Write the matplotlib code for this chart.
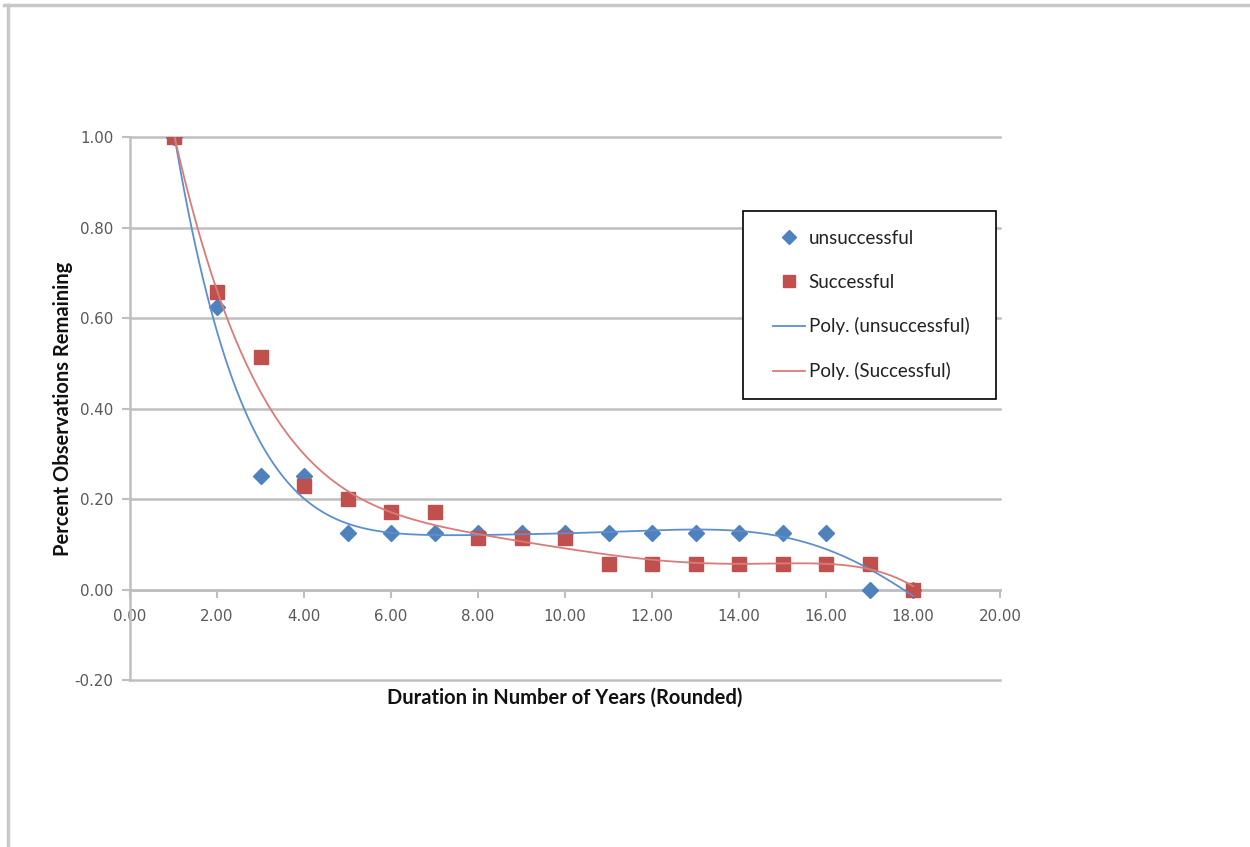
import numpy as np
import matplotlib
matplotlib.use("Agg")
import matplotlib.pyplot as plt
from matplotlib.lines import Line2D
from matplotlib.legend_handler import HandlerLine2D

years = [1, 2, 3, 4, 5, 6, 7, 8, 9, 10, 11, 12, 13, 14, 15, 16, 17, 18]
unsuccessful = [1.0, 0.625, 0.25, 0.25, 0.125, 0.125, 0.125, 0.125, 0.125,
                0.125, 0.125, 0.125, 0.125, 0.125, 0.125, 0.125, 0.0, 0.0]
successful = [1.0, 0.657, 0.514, 0.229, 0.2, 0.171, 0.171, 0.114, 0.114,
              0.114, 0.057, 0.057, 0.057, 0.057, 0.057, 0.057, 0.057, 0.0]
x_ticks = [0, 2, 4, 6, 8, 10, 12, 14, 16, 18, 20]
y_ticks = [-0.2, 0.0, 0.2, 0.4, 0.6, 0.8, 1.0]
poly_order_unsuccessful = 6
poly_order_successful = 5

BLUE = "#4F81BD"
RED = "#C0504D"
BLUE_L = "#5B8FD0"
RED_L = "#DB7B78"
GRID = "#BFBFBF"

fig = plt.figure(figsize=(12.5, 8.47), dpi=100)
ax = fig.add_axes([130/1250, 1-680/847, 870/1250, (680-137)/847])

xs = np.array(years, dtype=float)
xf = np.linspace(xs.min(), xs.max(), 400)
pu = np.polyfit(xs, unsuccessful, poly_order_unsuccessful)
ps = np.polyfit(xs, successful, poly_order_successful)

ax.plot(years, unsuccessful, linestyle="none", marker="D", markersize=8,
        color=BLUE, zorder=3)
ax.plot(years, successful, linestyle="none", marker="s", markersize=10,
        color=RED, zorder=3)
ax.plot(xf, np.polyval(pu, xf), color=BLUE_L, lw=1.3, zorder=4)
ax.plot(xf, np.polyval(ps, xf), color=RED_L, lw=1.3, zorder=4)

ax.set_xlim(0, 20)
ax.set_ylim(-0.2, 1.0)
ax.set_xticks(x_ticks)
ax.set_yticks(y_ticks)
ax.set_xticklabels([f"{t:.2f}" for t in x_ticks])
ax.set_yticklabels([f"{t:.2f}" for t in y_ticks])

for s in ["top", "right"]:
    ax.spines[s].set_visible(False)
ax.spines["left"].set_color(GRID)
ax.spines["left"].set_linewidth(1.8)
ax.spines["bottom"].set_position(("data", 0))
ax.spines["bottom"].set_color(GRID)
ax.spines["bottom"].set_linewidth(1.8)
ax.yaxis.grid(True, color=GRID, linewidth=1.8)
for gl in ax.yaxis.get_gridlines():
    gl.set_clip_on(False)
ax.set_axisbelow(True)
ax.tick_params(axis="both", colors=GRID, labelcolor="#595959",
               labelsize=10.8, length=6, width=1.5)
for t in ax.get_xticklabels() + ax.get_yticklabels():
    t.set_family("DejaVu Sans")
ax.tick_params(axis="x", direction="out", pad=8)
ax.tick_params(axis="y", direction="out", pad=6)

fam = ["Lato", "DejaVu Sans"]
ax.set_xlabel("Duration in Number of Years (Rounded)", fontsize=14.5,
              fontweight="bold", family=fam, color="#111111")
ax.xaxis.set_label_coords(0.5, -0.015)
ax.xaxis.label.set_va("top")
ax.set_ylabel("Percent Observations Remaining", fontsize=14.5,
              fontweight="bold", family=fam, color="#111111")
ax.yaxis.set_label_coords(-57/870, 0.5)

handles = [
    Line2D([], [], linestyle="none", marker="D", markersize=7, color=BLUE),
    Line2D([], [], linestyle="none", marker="s", markersize=9, color=RED),
    Line2D([], [], color=BLUE_L, lw=1.3),
    Line2D([], [], color=RED_L, lw=1.3),
]
labels = ["unsuccessful", "Successful", "Poly. (unsuccessful)", "Poly. (Successful)"]
hm = {h: HandlerLine2D(xpad=0.6) for h in handles}
leg = fig.legend(handles, labels, loc="upper left",
                 bbox_to_anchor=(743/1250, 1-395/847, 253/1250, 184/847),
                 mode="expand", frameon=True,
                 fancybox=False, edgecolor="black", framealpha=1,
                 prop={"family": fam, "size": 13.5}, labelspacing=1.43,
                 handlelength=2.3, borderpad=1.0, handletextpad=0.2,
                 borderaxespad=0, handler_map=hm)
leg.get_frame().set_linewidth(1.2)
for t in leg.get_texts():
    t.set_color("#222222")

# chart area border (top and left)
fig.add_artist(Line2D([4/1250, 1], [1-5/847, 1-5/847], transform=fig.transFigure,
                      color="#C8C8C8", lw=2.5))
fig.add_artist(Line2D([8/1250, 8/1250], [0, 1-5/847], transform=fig.transFigure,
                      color="#C8C8C8", lw=2.5))

fig.savefig("out.png", dpi=100)
